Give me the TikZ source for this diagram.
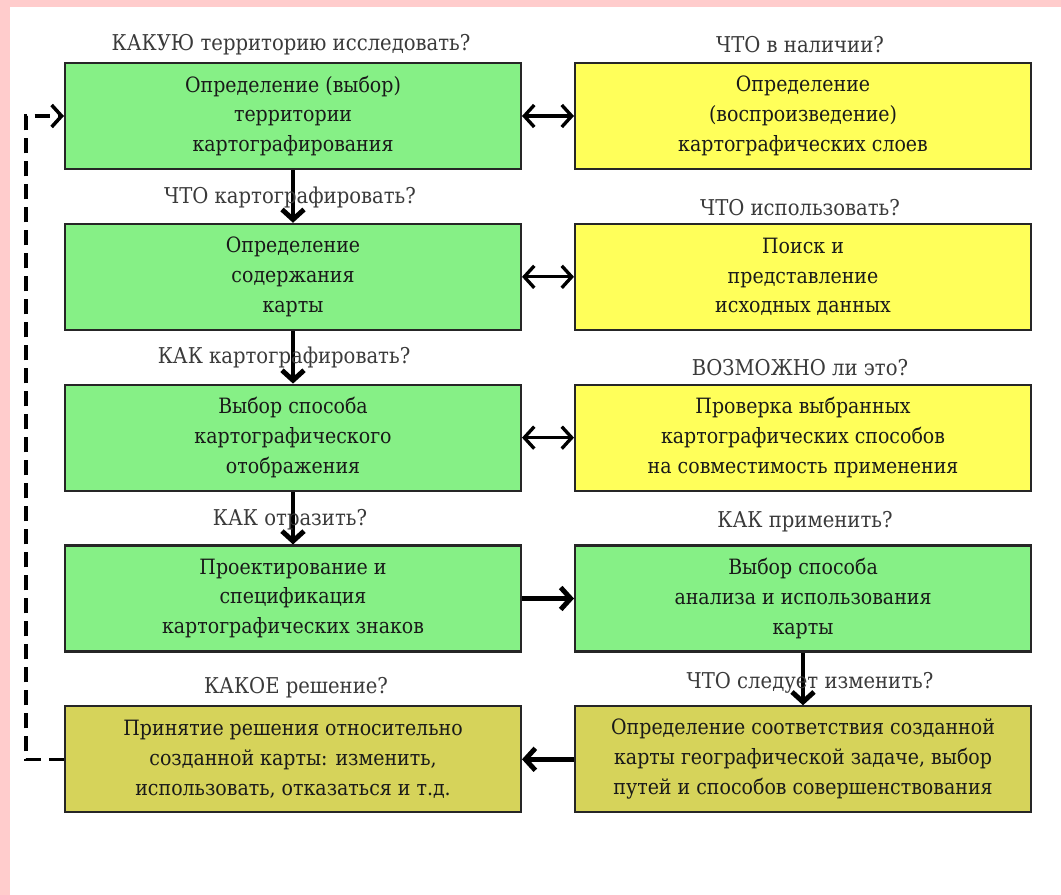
\documentclass[tikz,border=0pt]{standalone}
\usepackage{fontspec}
\setmainfont{DejaVu Serif Condensed}
\usetikzlibrary{positioning,arrows.meta}

\definecolor{boxgreen}{HTML}{86F086}
\definecolor{boxyellow}{HTML}{FFFF5A}
\definecolor{boxolive}{HTML}{D6D35A}
\definecolor{framepink}{HTML}{FFCCCC}
\definecolor{asktext}{HTML}{3A3A3A}

\tikzset{
  stepbox/.style={draw=black!85,line width=1.2pt,minimum width=9.12cm,minimum height=2.12cm,
    align=center,font=\fontsize{12}{17}\selectfont,text=black!90},
  ask/.style={font=\fontsize{12.4}{15}\selectfont,text=asktext},
  flow/.style={line width=2.8pt,-{Straight Barb[length=2mm,width=4.4mm]}},
  link/.style={line width=1.9pt,{Straight Barb[length=2mm,width=4.4mm]}-{Straight Barb[length=2mm,width=4.4mm]}},
  back/.style={line width=2pt,dash pattern=on 0.3cm off 0.16cm,-{Straight Barb[length=2mm,width=4.4mm]}}
}

\begin{document}
\begin{tikzpicture}[x=0.02cm,y=-0.02cm,node distance=1.055cm and 1.04cm]
  % frame
  \fill[framepink] (0,0) rectangle (1061,895);
  \fill[white] (10,7) rectangle (1061,895);
  \useasboundingbox (0,0) rectangle (1061,895);

  % left column
  \node[stepbox,fill=boxgreen] (terr) at (293,116) {Определение (выбор)\\территории\\картографирования};
  \node[stepbox,fill=boxgreen,below=of terr] (content) {Определение\\содержания\\карты};
  \node[stepbox,fill=boxgreen,below=of content] (method) {Выбор способа\\картографического\\отображения};
  \node[stepbox,fill=boxgreen,below=of method] (design) {Проектирование и\\спецификация\\картографических знаков};
  \node[stepbox,fill=boxolive,below=of design] (decide) {Принятие решения относительно\\созданной карты: изменить,\\использовать, отказаться и т.д.};

  % right column
  \node[stepbox,fill=boxyellow,right=of terr] (layers) {Определение\\(воспроизведение)\\картографических слоев};
  \node[stepbox,fill=boxyellow,right=of content] (source) {Поиск и\\представление\\исходных данных};
  \node[stepbox,fill=boxyellow,right=of method] (check) {Проверка выбранных\\картографических способов\\на совместимость применения};
  \node[stepbox,fill=boxgreen,right=of design] (apply) {Выбор способа\\анализа и использования\\карты};
  \node[stepbox,fill=boxolive,right=of decide] (fit) {Определение соответствия созданной\\карты географической задаче, выбор\\путей и способов совершенствования};

  % arrows
  \draw[flow] (terr) -- (content);
  \draw[flow] (content) -- (method);
  \draw[flow] (method) -- (design);
  \draw[flow] (design) -- (apply);
  \draw[flow] (apply) -- (fit);
  \draw[flow] (fit) -- (decide);
  \draw[link] (terr) -- (layers);
  \draw[link] (content) -- (source);
  \draw[link] (method) -- (check);
  \draw[back] (decide.west) -- ++(-0.76cm,0) |- (terr.west);

  % questions
  \node[ask] (qterr) at (291,45) {КАКУЮ территорию исследовать?};
  \node[ask] (qcontent) at (290,197) {ЧТО картографировать?};
  \node[ask] (qmethod) at (284,357) {КАК картографировать?};
  \node[ask] (qdesign) at (290,520) {КАК отразить?};
  \node[ask] (qdecide) at (296,688) {КАКОЕ решение?};
  \node[ask] (qlayers) at (800,45) {ЧТО в наличии?};
  \node[ask] (qsource) at (800,208) {ЧТО использовать?};
  \node[ask] (qcheck) at (800,368) {ВОЗМОЖНО ли это?};
  \node[ask] (qapply) at (805,522) {КАК применить?};
  \node[ask] (qfit) at (810,683) {ЧТО следует изменить?};
\end{tikzpicture}
\end{document}
